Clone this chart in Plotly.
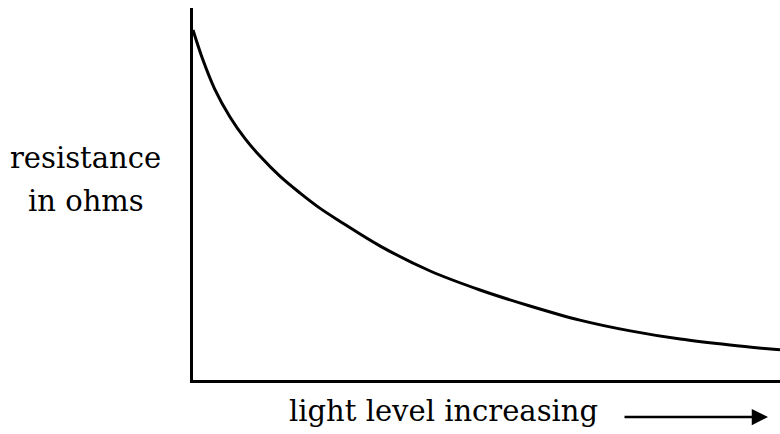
import plotly.graph_objects as go

# light level (arbitrary units) and resistance (arbitrary units)
light_level = [0, 0.17, 0.37, 0.63, 0.89, 1.14, 1.48, 1.82, 2.16, 2.5,
               3.19, 4.04, 4.89, 5.74, 6.59, 7.45, 8.3, 9.15, 10]
resistance = [94.1, 86.0, 78.2, 70.7, 64.8, 60.2, 54.8, 50.3, 46.2, 42.7,
              36.0, 29.3, 24.2, 19.9, 16.1, 13.2, 11.0, 9.4, 8.1]

y_label_lines = ["resistance", "in ohms"]
x_label = "light level increasing"

W, H = 780, 434
L, R, T, B = 193, 0, 8, 54
pw, ph = W - L - R, H - T - B

def px(x):
    return (x - L) / pw

def py(y):
    return (H - B - y) / ph

font = dict(family="DejaVu Serif", size=29, color="black")

fig = go.Figure()
fig.add_trace(go.Scatter(x=light_level, y=resistance, mode="lines",
                         line=dict(color="black", width=3, shape="spline", smoothing=1.0),
                         hoverinfo="skip"))

fig.update_layout(
    width=W, height=H,
    margin=dict(l=L, r=R, t=T, b=B),
    paper_bgcolor="white", plot_bgcolor="white",
    showlegend=False,
    xaxis=dict(range=[0, 10], showline=True, linecolor="black", linewidth=3,
               showgrid=False, zeroline=False, showticklabels=False, ticks=""),
    yaxis=dict(range=[0, 100], showline=True, linecolor="black", linewidth=3,
               showgrid=False, zeroline=False, showticklabels=False, ticks=""),
    annotations=[
        dict(text=y_label_lines[0], xref="paper", yref="paper", x=px(85), y=py(158),
             showarrow=False, font=font, xanchor="center", yanchor="middle"),
        dict(text=y_label_lines[1], xref="paper", yref="paper", x=px(86), y=py(201),
             showarrow=False, font=font, xanchor="center", yanchor="middle"),
        dict(text=x_label, xref="paper", yref="paper", x=px(287), y=py(411),
             showarrow=False, font=font, xanchor="left", yanchor="middle"),
        dict(text="", xref="paper", yref="paper", x=px(768), y=py(417),
             showarrow=True, ax=-145, ay=0, arrowhead=2, arrowsize=1.3,
             arrowwidth=2.5, arrowcolor="black"),
    ],
)

fig.write_html("out.html", config={"displayModeBar": False},
               post_script="document.body.style.margin='0';document.body.style.overflow='hidden';")
